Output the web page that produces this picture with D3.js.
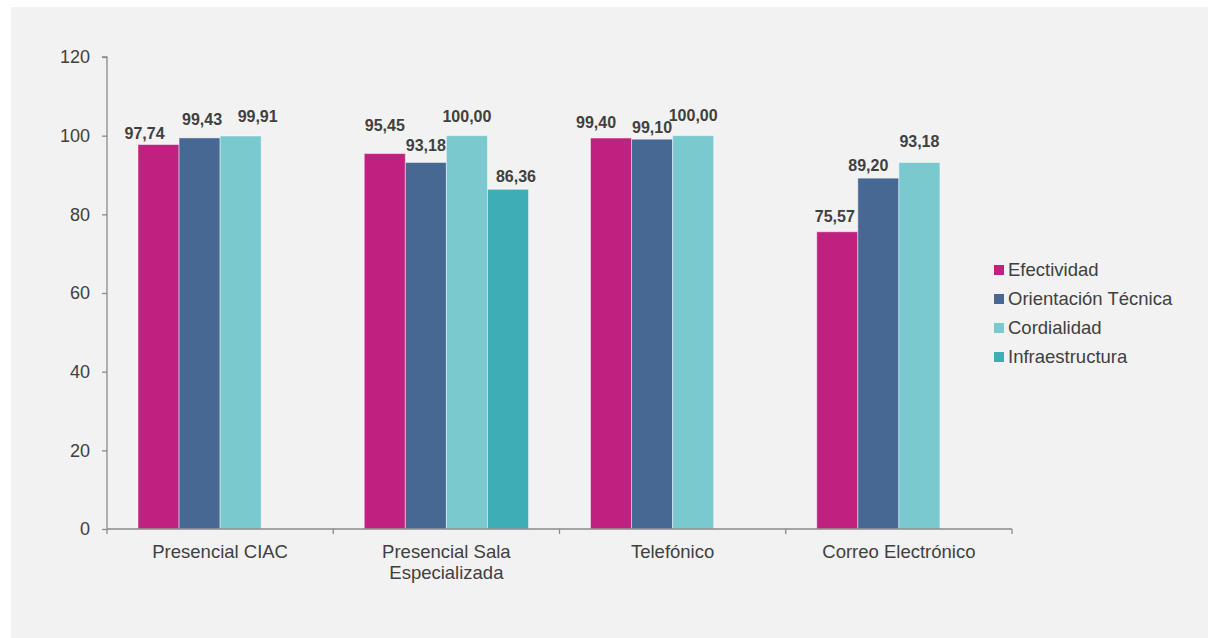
<!DOCTYPE html>
<html>
<head>
<meta charset="utf-8">
<script src="https://cdn.jsdelivr.net/npm/d3@7/dist/d3.min.js"></script>
<style>
  html, body { margin: 0; padding: 0; background: #ffffff; }
  svg { display: block; }
  text { font-family: "Liberation Sans", Arial, sans-serif; }
</style>
</head>
<body>
<svg id="chart" width="1208" height="638"></svg>
<script>
// Satisfaction scores by service channel
const categories = ["Presencial CIAC", "Presencial Sala Especializada", "Telefónico", "Correo Electrónico"];
const seriesNames = ["Efectividad", "Orientación Técnica", "Cordialidad", "Infraestructura"];
const efectividad = [97.74, 95.45, 99.40, 75.57];
const orientacion = [99.43, 93.18, 99.10, 89.20];
const cordialidad = [99.91, 100.00, 100.00, 93.18];
const infraestructura = [null, 86.36, null, null];
const yTicks = [0, 20, 40, 60, 80, 100, 120];

// Manual label nudges [dx, dy] per series and category
const labelNudge = [
  [[-14, 0], [0, -17], [-15, -4], [-2.5, -4]],
  [[2.5, -7], [0, -5], [0, 0], [-10, -1]],
  [[17, -8], [0, -8], [0, -9], [0, -9]],
  [[0, 0], [8, -1], [0, 0], [0, 0]]
];

const seriesValues = [efectividad, orientacion, cordialidad, infraestructura];
const colors = ["#c0207f", "#466893", "#79c9ce", "#3fadb5"];
const textColor = "#404040";
const axisColor = "#8a8a8a";

const svg = d3.select("#chart");

// panel background
svg.append("rect").attr("x", 11).attr("y", 7).attr("width", 1197).attr("height", 631).attr("fill", "#f2f2f2");

const plot = { left: 107, right: 1012, top: 57, bottom: 529 };

const x0 = d3.scaleBand().domain(categories).range([plot.left, plot.right]).padding(0);
const x1 = d3.scaleBand().domain(seriesNames).range([31, x0.bandwidth() - 31]).padding(0);
const y = d3.scaleLinear().domain([0, 120]).range([plot.bottom, plot.top]);

const fmt = d3.formatLocale({ decimal: ",", thousands: ".", grouping: [3], currency: ["", ""] }).format(".2f");

// y axis
const yAxis = svg.append("g")
  .attr("transform", `translate(${plot.left},0)`)
  .call(d3.axisLeft(y).tickValues(yTicks).tickSize(5).tickPadding(12).tickFormat(d3.format("d")));
yAxis.selectAll("path, line").attr("stroke", axisColor).attr("stroke-width", 1.3);
yAxis.select(".domain").attr("d", `M-5,${plot.top}H0V${plot.bottom}`);
yAxis.selectAll("text").attr("fill", textColor).style("font-size", "18px").attr("font-family", "Liberation Sans, Arial, sans-serif");

// bars
const rows = [];
categories.forEach((c, ci) => {
  seriesNames.forEach((s, si) => {
    const v = seriesValues[si][ci];
    if (v != null) rows.push({ c, ci, s, si, v });
  });
});

const bars = svg.append("g");
bars.selectAll("rect").data(rows).join("rect")
  .attr("x", d => x0(d.c) + x1(d.s))
  .attr("y", d => y(d.v))
  .attr("width", x1.bandwidth())
  .attr("height", d => y(0) - y(d.v))
  .attr("fill", d => colors[d.si])
  .attr("stroke", "rgba(255,255,255,0.45)")
  .attr("stroke-width", 1);

// value labels
svg.append("g").selectAll("text").data(rows).join("text")
  .attr("x", d => x0(d.c) + x1(d.s) + x1.bandwidth() / 2 + labelNudge[d.si][d.ci][0])
  .attr("y", d => y(d.v) - 6 + labelNudge[d.si][d.ci][1])
  .attr("text-anchor", "middle")
  .attr("fill", textColor)
  .style("font-size", "16px")
  .style("font-weight", "bold")
  .text(d => fmt(d.v));

// x axis
const xg = svg.append("g").attr("transform", `translate(0,${plot.bottom})`);
xg.append("line").attr("x1", plot.left).attr("x2", plot.right).attr("stroke", axisColor).attr("stroke-width", 1.3);
const boundaries = categories.map(c => x0(c)).concat([plot.right]);
xg.selectAll("line.tick").data(boundaries).join("line")
  .attr("class", "tick")
  .attr("x1", d => d).attr("x2", d => d).attr("y1", 0).attr("y2", 5)
  .attr("stroke", axisColor).attr("stroke-width", 1.3);

// category labels, wrapped to the band width
function wrapWords(text, maxWidth, measure) {
  const words = text.split(" ");
  const lines = [];
  let line = "";
  words.forEach(w => {
    const t = line ? line + " " + w : w;
    if (measure(t) > maxWidth && line) { lines.push(line); line = w; }
    else line = t;
  });
  lines.push(line);
  return lines;
}
const measurer = svg.append("text").style("font-size", "18.5px").attr("visibility", "hidden");
const measure = s => { measurer.text(s); return measurer.node().getComputedTextLength(); };

categories.forEach(c => {
  const lines = wrapWords(c, x0.bandwidth() - 20, measure);
  const t = xg.append("text")
    .attr("x", x0(c) + x0.bandwidth() / 2)
    .attr("y", 29)
    .attr("text-anchor", "middle")
    .attr("fill", textColor)
    .style("font-size", "18.5px");
  lines.forEach((l, i) => {
    t.append("tspan").attr("x", x0(c) + x0.bandwidth() / 2).attr("dy", i === 0 ? 0 : 20.5).text(l);
  });
});
measurer.remove();

// legend
const legend = svg.append("g").attr("transform", "translate(994,265)");
seriesNames.forEach((s, i) => {
  const g = legend.append("g").attr("transform", `translate(0,${i * 29})`);
  g.append("rect").attr("width", 10).attr("height", 10).attr("fill", colors[i]);
  g.append("text").attr("x", 14).attr("y", 11).attr("fill", textColor).style("font-size", "18.5px").text(s);
});
</script>
</body>
</html>
